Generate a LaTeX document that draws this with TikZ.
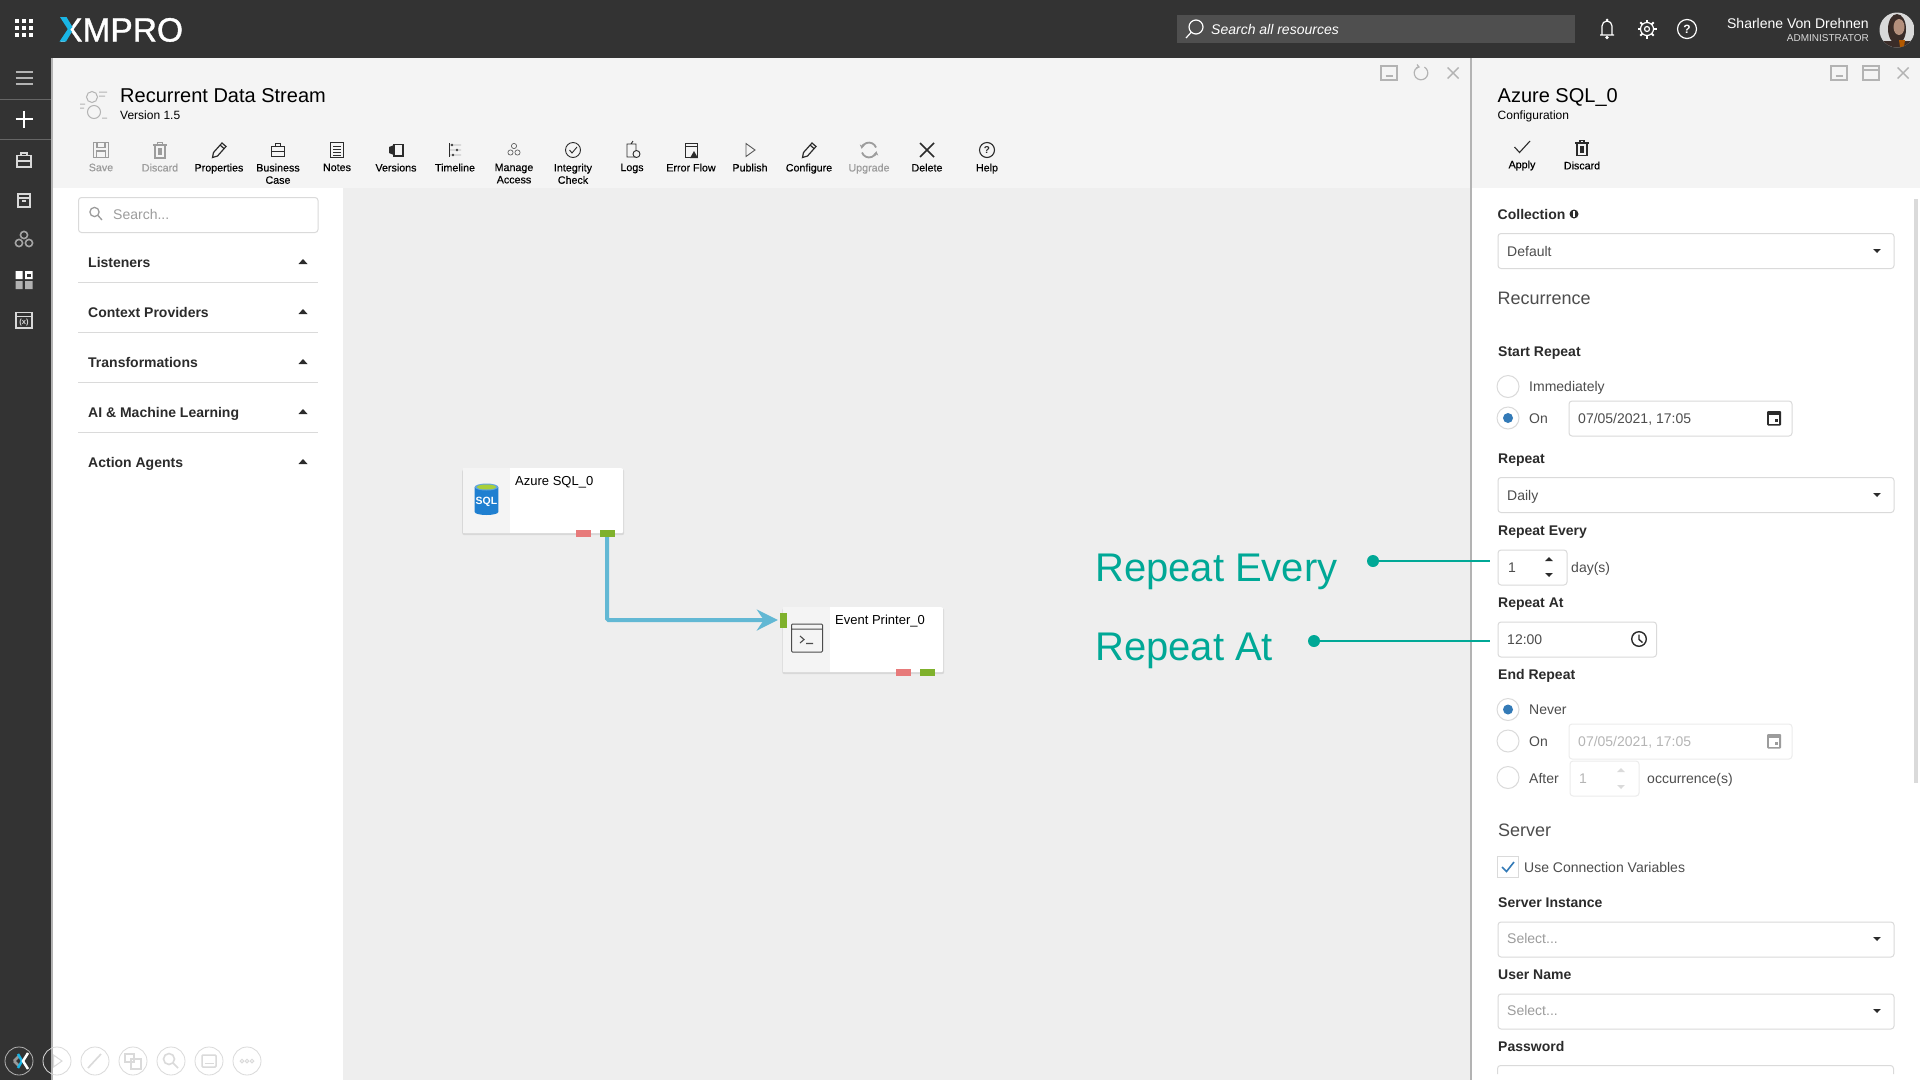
\documentclass[tikz,border=0pt]{standalone}
\usepackage{fontspec}
\setmainfont{Liberation Sans}
\newfontfamily\logofont[FakeBold=1.2]{Liberation Sans}
\newfontfamily\toolfont[FakeBold=.3]{Liberation Sans}
\usetikzlibrary{arrows.meta,shadows}

\definecolor{bardark}{HTML}{333333}
\definecolor{barsearch}{HTML}{4F4F4F}
\definecolor{panelgrey}{HTML}{F4F4F4}
\definecolor{canvasgrey}{HTML}{EEEEEE}
\definecolor{stripgrey}{HTML}{B3B3B3}
\definecolor{edgegrey}{HTML}{DADADA}
\definecolor{fadetext}{HTML}{9C9C9C}
\definecolor{inktext}{HTML}{2B2B2B}
\definecolor{formtext}{HTML}{4D4D4D}
\definecolor{logocyan}{HTML}{19B5E5}
\definecolor{linkblue}{HTML}{62B8D4}
\definecolor{portred}{HTML}{E77A7A}
\definecolor{portgreen}{HTML}{7FB12C}
\definecolor{calloutteal}{HTML}{00A896}
\definecolor{radioblue}{HTML}{337AB7}
\definecolor{sqlblue}{HTML}{1F7FD0}
\definecolor{sqllime}{HTML}{A8CF3A}
\definecolor{avatarskin}{HTML}{B48F7C}
\definecolor{avatarhair}{HTML}{3A2C28}

\newcommand{\pxfont}[1]{\fontsize{#1}{#1}\selectfont}

\begin{document}
\begin{tikzpicture}[x=1pt,y=-1pt]

	\tikzstyle plain text=[inner sep=0pt,anchor=west,text height=10pt,text depth=0pt];
	\tikzstyle form label=[plain text,font=\pxfont{14}\bfseries,text=inktext];
	\tikzstyle form text=[plain text,font=\pxfont{14},text=formtext];
	\tikzstyle form hint=[plain text,font=\pxfont{14},text=fadetext];
	\tikzstyle form head=[plain text,text height=13pt,font=\pxfont{18},text=formtext];
	\tikzstyle title text=[plain text,text height=14.4pt,font=\pxfont{20},text=black];
	\tikzstyle sub text=[plain text,text height=8.6pt,font=\pxfont{12},text=black];
	\tikzstyle block text=[plain text,text height=9.4pt,font=\pxfont{13},text=black];
	\tikzstyle tool text=[inner sep=0pt,anchor=north,align=center,font=\toolfont\fontsize{10.7}{12.3}\selectfont];
	\tikzstyle field box=[draw=edgegrey,line width=1pt,rounded corners=3pt,fill=white,inner sep=0pt,anchor=north west];
	\tikzstyle radio=[circle,draw=edgegrey,line width=1pt,fill=white,minimum size=22pt,inner sep=0pt];
	\tikzstyle radio dot=[circle,fill=radioblue,minimum size=10pt,inner sep=0pt];
	\tikzstyle block=[draw=none,fill=white,rounded corners=2pt,minimum width=160pt,minimum height=65pt,inner sep=0pt,anchor=north west,drop shadow={shadow xshift=0pt,shadow yshift=-1.5pt,shadow scale=1.012,opacity=.2}];
	\tikzstyle block side=[fill=panelgrey,minimum width=47pt,minimum height=65pt,inner sep=0pt,anchor=north west];
	\tikzstyle port=[inner sep=0pt,minimum width=15pt,minimum height=7pt];
	\tikzstyle link=[draw=linkblue,line width=4pt,rounded corners=1.5pt];
	\tikzstyle call dot=[circle,fill=calloutteal,minimum size=12pt,inner sep=0pt];
	\tikzstyle call line=[draw=calloutteal,line width=2.7pt];
	\tikzstyle call text=[inner sep=0pt,anchor=base west,font=\pxfont{40},text=calloutteal];
	\tikzstyle side icon=[draw=white!85!black,line width=1.2pt];
	\tikzstyle tool icon=[draw=inktext,line width=.9pt];
	\tikzstyle fade icon=[draw=fadetext,line width=1.1pt];
	\tikzstyle win icon=[draw=stripgrey,line width=1.2pt];
	\tikzstyle dock icon=[draw=edgegrey,line width=1pt];

	\useasboundingbox (0,0) rectangle (1920,1080);

	% panels
	\fill[white] (0,0) rectangle (1920,1080);
	\fill[canvasgrey] (343,188) rectangle (1470,1080);
	\fill[panelgrey] (53,58) rectangle (1470,188);
	\fill[panelgrey] (1472,58) rectangle (1920,188);
	\fill[bardark] (0,0) rectangle (1920,58);
	\fill[bardark] (0,58) rectangle (51,1080);
	\fill[stripgrey] (51,58) rectangle (53,1080);
	\fill[stripgrey] (1470,58) rectangle (1472,1080);
	\fill[edgegrey] (1914,199) rectangle (1918,783);

	% top bar
	\foreach \x in {17,24,31}
		\foreach \y in {21,28,35}
			\fill[white] (\x-2.2,\y-2.2) rectangle (\x+2.2,\y+2.2);
	\node[plain text,text height=25pt,font=\logofont\pxfont{33.5},text=white] (logo) at (60,29) {XMPRO};
	\fill[logocyan] (60,17) -- (66.5,17) -- (72.5,27) -- (69,31) -- cycle;
	\fill[logocyan] (59.5,41.5) -- (66,41.5) -- (72,31.5) -- (68.5,28) -- cycle;
	\fill[barsearch] (1177,15) rectangle (1575,43);
	\draw[white,line width=1.2pt] (1196,27) circle (7pt) (1191,32.5) -- (1186,38);
	\node[plain text,font=\pxfont{14}\itshape,text=white] (searchall) at (1211,29) {Search all resources};
	\draw[white,line width=1.2pt] (1600,35) -- (1614,35) (1602,35) -- (1602,26) arc[start angle=180,end angle=0,radius=5pt] -- (1612,35);
	\fill[white] (1607,20) circle (1.5pt) (1607,37.5) circle (1.8pt);
	\draw[white,line width=1.2pt] (1647,29) circle (6.5pt) (1647,29) circle (2.5pt);
	\foreach \a in {0,45,...,315}
		\draw[white,line width=2pt] (1647,29) ++(\a:6.5pt) -- ++(\a:3pt);
	\draw[white,line width=1.2pt] (1687,29) circle (9.5pt);
	\node[inner sep=0pt,font=\pxfont{12}\bfseries,text=white] (helptop) at (1687,29) {?};
	\node[plain text,anchor=east,font=\pxfont{14},text=white] (username) at (1869,23) {Sharlene Von Drehnen};
	\node[plain text,anchor=east,text height=7pt,font=\pxfont{10},text=white!85!black] (userrole) at (1869,38) {ADMINISTRATOR};
	\begin{scope}
		\clip (1897,30) circle (17.5pt);
		\fill[white!85!black] (1879,11) rectangle (1915,48);
		\fill[avatarhair] (1897,29) ellipse [x radius=9pt,y radius=15pt];
		\fill[avatarhair] (1884,41) rectangle (1911,48);
		\fill[avatarskin] (1899,27) ellipse [x radius=5.5pt,y radius=8pt];
		\fill[orange!70!black] (1899,40) -- (1905,40) -- (1904,47) -- (1900,47) -- cycle;
	\end{scope}

	% side bar
	\foreach \y in {72,78,84}
		\draw[stripgrey,line width=2pt] (15.5,\y) -- (32.5,\y);
	\draw[white!25!bardark] (0,99) -- (51,99) (0,139) -- (51,139);
	\draw[white,line width=1.5pt] (15.5,119) -- (32.5,119) (24,110.5) -- (24,127.5);
	\draw[side icon] (17,155.5) rectangle (31,167) (17,161) -- (31,161) (21,155.5) -- (21,153) -- (27,153) -- (27,155.5);
	\draw[side icon] (18,194) rectangle (30,207) (18,198) -- (30,198) (22,201) -- (26,201);
	\foreach \x/\y in {24/235,19/243,29/243}
		\draw[side icon,line width=1.6pt,draw=white!65!black] (\x,\y) circle (3.6pt);
	\fill[white] (15.5,271) rectangle (22.5,279) (25,271) rectangle (32.5,279);
	\fill[bardark] (27,273.5) rectangle (30.5,277);
	\fill[white!70!black] (15.5,281) rectangle (22.5,289) (25,281) rectangle (32.5,289);
	\draw[side icon] (16,312.5) rectangle (32,328) (16,316.5) -- (32,316.5);
	\node[inner sep=0pt,font=\pxfont{7.5}\bfseries,text=white!85!black] (sidevars) at (24,322.5) {(x)};

	% main header
	\draw[stripgrey,line width=1pt] (92,97) circle (5.5pt) (94,112) circle (6.5pt) (99,92) -- (107,92) (99,96) -- (105,96) (80,104) -- (85,104) (80,108) -- (84,108) (102,118) -- (107,118);
	\node[title text] (streamtitle) at (120,95) {Recurrent Data Stream};
	\node[sub text] (streamversion) at (120,115) {Version 1.5};

	% toolbar labels
	\foreach \x/\label/\col in {101/Save/fadetext,160/Discard/fadetext,219/Properties/black,278/{Business\\Case}/black,337/Notes/black,396/Versions/black,455/Timeline/black,514/{Manage\\Access}/black,573/{Integrity\\Check}/black,632/Logs/black,691/Error Flow/black,750/Publish/black,809/Configure/black,869/Upgrade/fadetext,927/Delete/black,987/Help/black}
		\node[tool text,text=\col] (tool\x) at (\x,163.5) {\label};

	% toolbar icons
	\draw[fade icon] (93.5,142.5) rectangle (108.5,157.5) (97,142.5) rectangle (105,147.5) (96.5,151) rectangle (105.5,157.5);
	\draw[fade icon] (155,145) rectangle (165,158) (153,145) -- (167,145) (157.5,145) -- (157.5,142.5) -- (162.5,142.5) -- (162.5,145);
	\fill[fadetext] (158,148) rectangle (162,155);
	\foreach \x in {219,809}
		\draw[tool icon,line width=1.2pt,shift={(\x,150)}] (-6.5,7.5) -- (-5.5,2.5) -- (3,-7) -- (7,-3.5) -- (-1.5,6) -- cycle (1,-5) -- (5,-1.5);
	\draw[tool icon] (271.5,146) rectangle (284.5,156) (271.5,151) -- (284.5,151) (275.5,146) -- (275.5,143.5) -- (280.5,143.5) -- (280.5,146);
	\draw[tool icon,line width=1.2pt] (330.5,142.5) rectangle (343.5,157.5);
	\foreach \y in {146,149,152,155}
		\draw[inktext] (333,\y) -- (341,\y);
	\draw[tool icon,line width=1.1pt] (394,144.5) rectangle (403,156);
	\fill[inktext] (394,145) -- (389,147) -- (389,153) -- (394,155) -- cycle;
	\draw[tool icon] (449,143) -- (449,157);
	\foreach \y/\d in {145/452,150/457,155/453}
		\draw[inktext] (449,\y) -- (461,\y) (\d,\y) circle (1.1pt);
	\foreach \x/\y in {514/146,510.5/152.5,517.5/152.5}
		\draw[draw=inktext!75,line width=.7pt] (\x,\y) circle (2.6pt);
	\draw[tool icon] (573,150) circle (7.5pt);
	\draw[tool icon] (569.5,150) -- (572,153) -- (577,147);
	\draw[tool icon] (627,144) rectangle (636,157) (631,144) -- (633,141);
	\draw[tool icon,fill=panelgrey] (636.5,154) circle (3.5pt);
	\draw[tool icon] (685,143) rectangle (697,157) (685,146.5) -- (697,146.5);
	\fill[inktext] (694,151) -- (698,158) -- (690,158) -- cycle;
	\draw[tool icon,draw=black!65] (746,143.5) -- (755,150) -- (746,156.5) -- cycle;
	\draw[fade icon,line width=1.8pt,-{Stealth[length=4pt,width=5pt]}] (876,147.5) arc[start angle=20,end angle=170,radius=7.5pt];
	\draw[fade icon,line width=1.8pt,-{Stealth[length=4pt,width=5pt]}] (862,152.5) arc[start angle=200,end angle=350,radius=7.5pt];
	\draw[tool icon,line width=1.5pt] (920,143) -- (934,157) (934,143) -- (920,157);
	\draw[tool icon,line width=1.1pt] (987,150) circle (7.5pt);
	\node[inner sep=0pt,font=\pxfont{10}\bfseries,text=inktext] (helptool) at (987,150) {?};

	% window buttons
	\foreach \x in {1389,1839}
		\draw[win icon] (\x-8,66) rectangle (\x+8,80) (\x-3.5,76) -- (\x+3.5,76);
	\draw[win icon] (1424.4,67.1) arc[start angle=60,end angle=-250,radius=6.8pt];
	\draw[win icon] (1417,64.5) -- (1419,67) -- (1416,68);
	\draw[win icon] (1863,66) rectangle (1879,80) (1863,70) -- (1879,70);
	\foreach \x in {1453,1903}
		\draw[win icon,line width=1.4pt] (\x-5.5,67.5) -- (\x+5.5,78.5) (\x+5.5,67.5) -- (\x-5.5,78.5);

	% palette
	\node[field box,minimum width=239.5pt,minimum height=35pt] (palettesearch) at (78,197) {};
	\draw[fadetext,line width=1.3pt] (94.5,212) circle (4.6pt) (98,215.5) -- (102,220);
	\node[form hint] (palettehint) at (113,214) {Search...};
	\foreach \y/\label/\n in {262/Listeners/0,312/Context Providers/1,362/Transformations/2,412/AI \& Machine Learning/3,462/Action Agents/4} {
		\node[form label] (group\n) at (88,\y) {\label};
		\fill[inktext] (298.5,\y+2) -- (307.5,\y+2) -- (303,\y-3) -- cycle;
	}
	\foreach \y in {282,332,382,432}
		\draw[edgegrey,line width=1pt] (78,\y) -- (318,\y);

	% blocks
	\node[block] (azure) at (463,468) {};
	\node[block side] (azureside) at (azure.north west) {};
	\node[block text] (azurename) at (515,481) {Azure SQL\_0};
	\node[port,fill=portred] (azurefail) at (583.5,533.5) {};
	\node[port,fill=portgreen] (azureout) at (607,533.5) {};
	\fill[sqlblue] (474.7,487) -- (474.7,512) arc[start angle=180,end angle=360,x radius=11.8pt,y radius=3pt] -- (498.3,487) -- cycle;
	\fill[sqlblue!70!white] (486.5,487) ellipse [x radius=11.8pt,y radius=3.5pt];
	\fill[sqllime] (486.5,487) ellipse [x radius=9.5pt,y radius=2.5pt];
	\node[inner sep=0pt,font=\pxfont{10.5}\bfseries,text=white] (sqlword) at (486.5,501.5) {SQL};

	\node[block] (printer) at (783,607) {};
	\node[block side] (printerside) at (printer.north west) {};
	\node[block text] (printername) at (835,620) {Event Printer\_0};
	\node[port,fill=portred] (printerfail) at (903.5,672.5) {};
	\node[port,fill=portgreen] (printerout) at (927.5,672.5) {};
	\node[port,fill=portgreen,minimum width=7pt,minimum height=15pt] (printerin) at (783.5,620) {};
	\draw[draw=black!70,line width=1pt,rounded corners=1pt] (791.5,624) rectangle (822.5,652) (791.5,629) -- (822.5,629);
	\draw[draw=black!70,line width=1.1pt] (800,636) -- (804,639.5) -- (800,643) (806,643.5) -- (813,643.5);

	\draw[link,-{Stealth[length=21pt,width=21pt,inset=7pt]},shorten >=2pt] (azureout.south) |- (printerin.west);

	% callouts
	\node[call text] (everytext) at (1095,581) {Repeat Every};
	\node[call text] (attext) at (1095,660.7) {Repeat At};
	\node[call dot] (everydot) at (1373,561) {};
	\node[call dot] (atdot) at (1314,641) {};
	\coordinate (everyend) at (1490,561);
	\coordinate (atend) at (1490,641);
	\draw[call line] (everydot) -- (everyend);
	\draw[call line] (atdot) -- (atend);

	% config header
	\node[title text] (configtitle) at (1497.5,95) {Azure SQL\_0};
	\node[sub text] (configsub) at (1497.5,115) {Configuration};
	\draw[tool icon,line width=1.1pt] (1514.5,147) -- (1519.5,152.5) -- (1530,141);
	\draw[tool icon,line width=1.3pt] (1577,143) rectangle (1587,155.5) (1575,143) -- (1589,143) (1580,143) -- (1580,140.5) -- (1584,140.5) -- (1584,143);
	\fill[inktext] (1580,145.5) rectangle (1584,153);
	\node[tool text,anchor=center,text=black] (applytext) at (1522,165.5) {Apply};
	\node[tool text,anchor=center,text=black] (discardtext) at (1582,165.5) {Discard};

	% config form
	\node[form label] (collectionlabel) at (1497.5,214) {Collection};
	\fill[inktext] (1574,214) circle (4.5pt);
	\fill[white] (1573.3,211) rectangle (1574.7,217);
	\node[field box,minimum width=396pt,minimum height=35pt] (collectionbox) at (1497.5,233) {};
	\node[form text] (collectiontext) at (1507,251) {Default};
	\node[form head] (recurrencehead) at (1497.5,298) {Recurrence};

	\node[form label] (startlabel) at (1498,351) {Start Repeat};
	\node[radio] (startnow) at (1508,386.5) {};
	\node[form text] (startnowtext) at (1529,386) {Immediately};
	\node[radio] (starton) at (1508,418) {};
	\node[radio dot] (startondot) at (starton) {};
	\node[form text] (startontext) at (1529,418) {On};
	\node[field box,minimum width=223pt,minimum height=35pt] (startdate) at (1568.5,400.5) {};
	\node[form text] (startdatetext) at (1578,418) {07/05/2021, 17:05};

	\node[form label] (repeatlabel) at (1498,458) {Repeat};
	\node[field box,minimum width=396pt,minimum height=35pt] (repeatbox) at (1497.5,477) {};
	\node[form text] (repeattext) at (1507,495) {Daily};

	\node[form label] (everylabel) at (1498,530) {Repeat Every};
	\node[field box,minimum width=69pt,minimum height=35pt] (everybox) at (1497.5,549.5) {};
	\node[form text] (everyvalue) at (1508,567) {1};
	\node[form text] (everyunit) at (1571,567) {day(s)};

	\node[form label] (atlabel) at (1498,602) {Repeat At};
	\node[field box,minimum width=158.5pt,minimum height=35pt] (atbox) at (1497.5,621.5) {};
	\node[form text] (atvalue) at (1507,639) {12:00};
	\draw[inktext,line width=1.4pt] (1639,639) circle (7.3pt) (1639,634.5) -- (1639,639.5) -- (1642.5,642.5);

	\node[form label] (endlabel) at (1498,674) {End Repeat};
	\node[radio] (endnever) at (1508,709.5) {};
	\node[radio dot] (endneverdot) at (endnever) {};
	\node[form text] (endnevertext) at (1529,709) {Never};
	\node[radio] (endon) at (1508,741) {};
	\node[form text] (endontext) at (1529,741) {On};
	\node[field box,draw=edgegrey!50,minimum width=223pt,minimum height=35pt] (enddate) at (1568.5,723.5) {};
	\node[form hint,text=fadetext!75] (enddatetext) at (1578,741) {07/05/2021, 17:05};
	\node[radio] (endafter) at (1508,777.5) {};
	\node[form text] (endaftertext) at (1529,778) {After};
	\node[field box,draw=edgegrey!50,minimum width=69pt,minimum height=35pt] (endcount) at (1569.5,760.5) {};
	\node[form hint,text=fadetext!75] (endcountvalue) at (1579,778) {1};
	\node[form text] (endcountunit) at (1647,778) {occurrence(s)};

	\node[form head] (serverhead) at (1498,830) {Server};
	\node[draw=edgegrey,line width=1pt,fill=white,minimum size=21pt,inner sep=0pt] (usevars) at (1508,866.5) {};
	\draw[radioblue,line width=1.6pt] (1502,867) -- (1506.5,871.5) -- (1514,862);
	\node[form text] (usevarstext) at (1524,867) {Use Connection Variables};

	\node[form label] (instancelabel) at (1498,902) {Server Instance};
	\node[field box,minimum width=396pt,minimum height=35pt] (instancebox) at (1497.5,921.5) {};
	\node[form hint] (instancehint) at (1507,938) {Select...};
	\node[form label] (namelabel) at (1498,974) {User Name};
	\node[field box,minimum width=396pt,minimum height=35pt] (namebox) at (1497.5,993.5) {};
	\node[form hint] (namehint) at (1507,1010) {Select...};
	\node[form label] (passlabel) at (1498,1046) {Password};
	\draw[edgegrey,line width=1pt,rounded corners=3pt] (1497.5,1074) -- (1497.5,1065.5) -- (1893.5,1065.5) -- (1893.5,1074);

	% calendars, carets and spinners
	\foreach \y/\col in {418/inktext,741/fadetext} {
		\fill[\col,rounded corners=1pt] (1767,\y-7) rectangle (1781,\y+7.5);
		\fill[white] (1769,\y-3.5) rectangle (1779,\y+5.5);
		\fill[\col] (1774.5,\y+.5) rectangle (1778,\y+4);
	}
	\foreach \y in {251,495,939,1011}
		\fill[inktext] (1873.2,\y-2) -- (1880.8,\y-2) -- (1877,\y+2) -- cycle;
	\foreach \x/\up/\dn/\col in {1549/559/575/inktext,1621/770/787/edgegrey} {
		\fill[\col] (\x-3.8,\up+2) -- (\x+3.8,\up+2) -- (\x,\up-2) -- cycle;
		\fill[\col] (\x-3.8,\dn-2) -- (\x+3.8,\dn-2) -- (\x,\dn+2) -- cycle;
	}

	% dock
	\foreach \x in {57,95,133,171,209,247}
		\draw[dock icon,line width=.8pt] (\x,1061) circle (14pt);
	\draw[stripgrey,line width=.8pt] (19,1061) circle (14pt);
	\draw[white!60!black,line width=2.5pt] (14,1061) -- (19,1056) (14,1061) -- (19,1066);
	\draw[logocyan,line width=2.5pt] (18,1054) -- (22,1061) -- (18,1068);
	\draw[white,line width=2.5pt] (28,1053) -- (23,1061) -- (28,1069);
	\draw[dock icon] (53.5,1055) -- (62,1061) -- (53.5,1067) -- cycle;
	\draw[dock icon,line width=1.6pt] (88,1068) -- (101,1054);
	\draw[dock icon,line width=1.5pt] (125,1054) rectangle (134,1062) (131,1059) rectangle (141,1069);
	\draw[dock icon,line width=1.6pt] (169,1059) circle (5.5pt) (173,1063) -- (178,1068);
	\draw[dock icon,line width=1.5pt,rounded corners=1pt] (202,1055) rectangle (216,1067);
	\draw[dock icon] (204.5,1063) -- (213.5,1063);
	\foreach \x in {242,247,252}
		\draw[dock icon] (\x,1061) circle (1.8pt);

\end{tikzpicture}
\end{document}
